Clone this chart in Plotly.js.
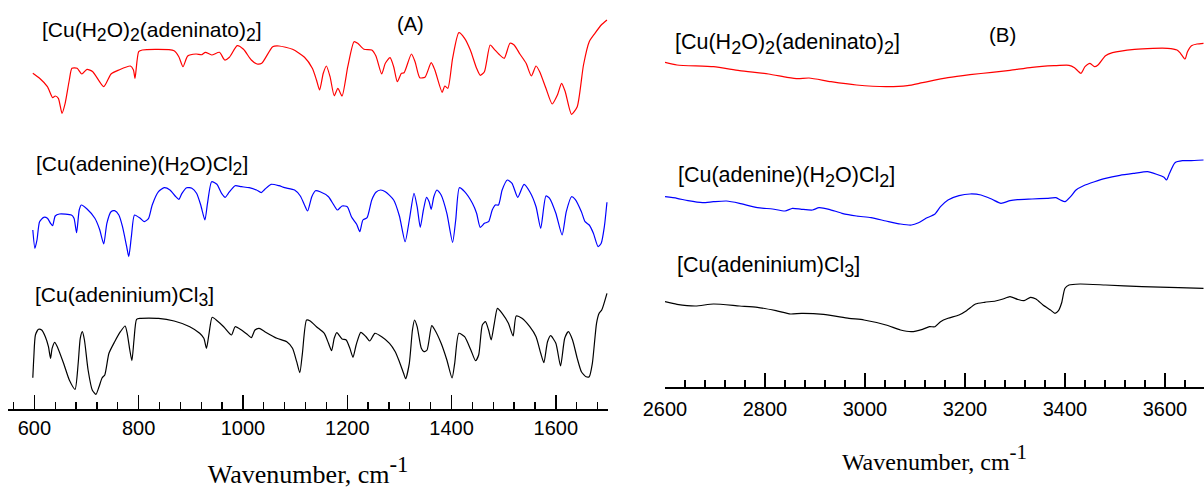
<!DOCTYPE html>
<html>
<head>
<meta charset="utf-8">
<script src="https://cdn.plot.ly/plotly-3.0.1.min.js"></script>
<style>html,body{margin:0;padding:0;background:#fff;}#chart{width:1204px;height:489px;}</style>
</head>
<body>
<div id="chart"></div>
<script>
// ---------- Panel (A): 600-1700 cm-1 (transmittance, arbitrary units, offset for clarity) ----------
const aRedWavenumber = [597,610,625,635,640,646,653,659,667,672,682,691,701,712,733,747,762,784,790,793,800,807,868,877,885,894,910,921,928,940,955,965,974,989,1001,1016,1027,1036,1057,1069,1095,1118,1133,1141,1147,1154,1160,1167,1175,1182,1190,1201,1213,1220,1232,1247,1255,1266,1273,1282,1289,1296,1304,1309,1323,1330,1339,1349,1361,1368,1382,1387,1393,1402,1414,1425,1436,1448,1455,1463,1474,1482,1491,1501,1512,1520,1531,1543,1553,1562,1569,1581,1593,1603,1611,1618,1630,1641,1653,1664,1675,1687,1698];
const aRedT = [335.7,330.7,322.3,311.3,313.0,310.7,295.7,305.7,329.0,340.7,340.7,335.0,339.7,337.3,322.3,335.0,339.0,343.0,339.0,330.7,357.3,359.0,358.3,352.3,342.3,353.0,355.0,354.3,356.7,354.0,356.7,349.0,351.7,363.3,359.7,349.0,345.0,345.7,362.3,363.0,359.7,351.7,340.7,329.0,319.0,335.7,343.0,332.3,313.3,320.7,313.0,342.3,367.3,365.7,359.7,359.0,353.0,335.0,345.7,351.3,342.3,327.3,335.7,336.3,355.0,347.3,331.3,331.7,346.3,339.0,316.7,323.0,320.7,350.7,376.3,370.7,359.0,340.7,333.7,337.3,364.0,359.7,354.7,350.7,365.7,364.0,355.0,345.7,333.0,343.0,337.3,320.7,305.0,314.0,325.7,317.3,294.7,302.3,344.0,367.3,375.7,384.0,389.0];

const aBlueWavenumber = [597,601,605,610,618,625,631,635,640,648,671,676,681,686,690,701,716,725,733,739,747,754,762,769,777,781,786,792,803,811,819,826,838,849,860,870,877,883,892,902,911,919,927,932,940,950,959,966,972,985,997,1012,1026,1035,1042,1054,1069,1080,1099,1110,1118,1124,1132,1139,1148,1164,1173,1181,1190,1200,1208,1213,1218,1224,1230,1238,1247,1255,1264,1273,1289,1300,1311,1319,1328,1334,1340,1346,1352,1357,1361,1366,1372,1380,1391,1402,1408,1415,1425,1440,1448,1455,1463,1471,1478,1484,1490,1497,1507,1516,1527,1539,1550,1562,1571,1581,1588,1600,1612,1620,1630,1637,1649,1656,1664,1672,1681,1687,1693,1698];
const aBlueT = [179.0,160.7,169.0,187.3,191.7,190.7,185.7,183.3,193.0,195.0,194.0,190.7,176.3,199.0,204.0,200.0,190.7,179.7,165.0,185.7,197.3,198.3,194.0,182.3,162.3,152.3,172.3,194.0,190.7,187.3,190.7,204.0,217.3,221.3,219.0,213.0,209.7,215.7,221.3,220.7,215.7,204.0,189.0,205.7,227.3,224.7,215.7,211.7,215.7,223.3,222.3,221.3,219.0,216.3,219.7,224.7,223.3,221.3,219.0,213.0,204.0,198.0,212.3,218.3,217.3,212.3,205.0,199.0,203.0,202.3,192.3,188.3,184.7,177.3,189.0,191.3,209.0,216.7,219.0,217.3,209.0,193.0,167.3,189.0,215.7,202.3,181.7,199.0,211.7,207.3,199.7,212.3,219.0,214.0,195.7,166.7,189.0,221.3,217.3,205.7,195.7,181.7,185.7,187.3,199.0,204.0,204.0,219.0,229.0,225.7,211.7,224.7,217.3,202.3,180.7,213.0,210.7,195.7,174.0,197.3,212.3,209.7,197.3,187.3,184.0,175.7,162.3,165.7,182.3,206.7];

const aBlackWavenumber = [597,599,602,608,614,621,627,631,634,639,644,656,667,678,684,688,692,696,703,711,718,724,730,735,743,754,765,774,778,783,787,791,796,803,838,868,898,917,925,930,935,941,951,963,978,985,997,1008,1016,1023,1031,1042,1065,1084,1095,1103,1109,1114,1122,1129,1141,1156,1164,1170,1175,1180,1190,1198,1205,1211,1217,1226,1236,1243,1253,1266,1281,1292,1300,1308,1312,1319,1325,1329,1334,1342,1347,1353,1362,1368,1380,1391,1401,1406,1414,1425,1437,1446,1452,1459,1465,1471,1476,1482,1488,1497,1509,1518,1524,1535,1550,1562,1571,1577,1584,1590,1600,1609,1617,1624,1632,1641,1649,1658,1664,1670,1678,1683,1688,1698];
const aBlackT = [31.3,52.3,74.0,79.7,79.0,72.3,62.3,50.7,60.7,66.7,62.3,45.7,29.0,19.7,45.7,70.7,77.3,69.0,39.0,19.0,14.7,22.3,31.3,34.0,55.7,67.3,77.3,83.0,75.7,59.0,48.3,69.0,89.7,90.7,90.7,88.0,82.3,75.7,70.7,60.7,75.7,91.7,88.0,82.3,74.0,82.3,79.0,74.7,71.3,79.0,80.7,77.3,70.7,67.3,60.7,47.3,36.3,55.7,89.0,88.0,82.3,75.7,65.7,58.3,70.7,76.3,70.0,69.0,60.7,51.7,64.0,76.7,72.3,68.0,75.7,72.3,65.7,57.3,47.3,35.7,30.3,45.7,79.0,89.0,82.3,60.7,57.3,59.0,83.3,79.0,65.7,49.0,31.0,45.7,75.7,72.3,59.0,48.3,54.0,84.0,87.3,79.0,69.0,85.7,100.7,95.7,85.7,73.0,93.0,90.7,82.3,72.3,55.7,46.3,67.3,73.3,65.7,43.0,70.7,77.3,69.0,50.7,37.3,32.3,32.3,45.7,85.7,95.7,99.0,115.7];

// ---------- Panel (B): 2600-3700 cm-1 ----------
const bRedWavenumber = [2600,2624,2697,2749,2807,2844,2866,2888,2932,2983,3042,3085,3115,3166,3210,3254,3290,3334,3378,3408,3419,3432,3440,3450,3459,3466,3481,3495,3539,3576,3605,3624,3631,3640,3645,3653,3664,3677];
const bRedT = [324.7,322.0,320.3,316.3,313.0,309.7,308.3,309.0,305.3,302.0,300.3,301.3,304.3,309.3,312.3,314.7,316.7,319.7,321.3,321.7,319.3,313.7,320.3,323.7,320.3,322.0,331.3,334.3,337.7,338.7,338.7,337.0,333.7,328.0,335.3,341.3,343.0,343.7];

const bBlueWavenumber = [2600,2624,2646,2675,2697,2723,2749,2785,2815,2840,2855,2873,2895,2908,2928,2954,2983,3012,3042,3071,3093,3107,3122,3140,3151,3166,3188,3210,3232,3254,3272,3290,3305,3334,3364,3382,3391,3400,3411,3422,3437,3459,3481,3510,3539,3565,3583,3598,3603,3609,3620,3635,3649,3677];
const bBlueT = [190.3,188.7,186.3,184.3,185.3,186.0,183.7,179.3,178.0,176.0,178.7,177.7,177.0,179.3,177.7,173.7,171.0,169.3,166.0,163.0,162.0,164.3,168.7,173.0,180.3,187.0,191.3,193.0,192.0,187.7,183.7,186.3,187.3,188.0,188.7,189.3,187.0,185.3,190.3,197.0,201.3,205.3,208.7,211.7,213.7,215.3,212.7,209.7,207.0,213.7,224.3,226.3,226.3,227.0];

const bBlackWavenumber = [2600,2624,2661,2697,2749,2785,2822,2851,2873,2917,2968,2998,3042,3071,3093,3115,3129,3140,3151,3166,3188,3203,3221,3239,3261,3276,3290,3305,3318,3331,3342,3356,3371,3380,3387,3393,3400,3408,3430,3481,3554,3627,3677];
const bBlackT = [85.3,82.7,81.0,83.0,81.0,79.7,76.3,73.0,73.7,72.7,68.7,67.0,62.0,57.0,55.3,57.7,60.3,60.3,65.3,68.7,72.0,76.3,83.0,84.7,86.0,88.0,90.3,87.7,86.3,89.7,88.0,82.0,77.0,73.7,76.3,83.7,98.7,102.0,103.0,102.0,100.3,99.3,98.7];

const S = n => "<sub><span style=\"font-size:120%\">" + n + "</span></sub>";
const compoundLabels = [
  "[Cu(H" + S(2) + "O)" + S(2) + "(adeninato)" + S(2) + "]",
  "[Cu(adenine)(H" + S(2) + "O)Cl" + S(2) + "]",
  "[Cu(adeninium)Cl" + S(3) + "]"
];
const panelLabels = ["(A)", "(B)"];
const axisTitle = "Wavenumber, cm<sup><span style=\"font-size:125%\">-1</span></sup>";

const W = 1204, H = 489;
const px = x => x / W;
const py = y => 1 - y / H;

function line(x, y, color, xa, ya, name) {
  return {x: x, y: y, type: 'scatter', mode: 'lines', name: name, xaxis: xa, yaxis: ya,
    line: {color: color, width: 1.2, shape: 'spline', smoothing: 0.6}, hoverinfo: 'x+name'};
}

const traces = [
  line(aRedWavenumber, aRedT, '#ff0000', 'x', 'y', compoundLabels[0]),
  line(aBlueWavenumber, aBlueT, '#0000ff', 'x', 'y', compoundLabels[1]),
  line(aBlackWavenumber, aBlackT, '#000000', 'x', 'y', compoundLabels[2]),
  line(bRedWavenumber, bRedT, '#ff0000', 'x2', 'y2', compoundLabels[0]),
  line(bBlueWavenumber, bBlueT, '#0000ff', 'x2', 'y2', compoundLabels[1]),
  line(bBlackWavenumber, bBlackT, '#000000', 'x2', 'y2', compoundLabels[2])
];

const tickFont = {family: 'Arial, "Liberation Sans", sans-serif', size: 20, color: '#000'};
const titleFont = s => ({family: '"Times New Roman", "Liberation Serif", serif', size: s, color: '#000'});

function xAxis(domain, range, tick0, anchor, titleSize, standoff, labelStandoff) {
  return {
    domain: domain, range: range, anchor: anchor,
    showline: true, linecolor: '#000', linewidth: 1.5,
    ticks: 'inside', ticklen: 14, tickwidth: 1.5, tickcolor: '#000',
    tick0: tick0, dtick: 200, tickfont: tickFont, ticklabelstandoff: labelStandoff,
    minor: {ticks: 'inside', tick0: tick0, dtick: 40, ticklen: 7, tickwidth: 1.3, tickcolor: '#000', showgrid: false},
    showgrid: false, zeroline: false, fixedrange: true,
    title: {text: axisTitle, font: titleFont(titleSize), standoff: standoff}
  };
}

const layout = {
  width: W, height: H,
  margin: {l: 0, r: 0, t: 0, b: 0},
  paper_bgcolor: '#fff', plot_bgcolor: 'rgba(0,0,0,0)',
  showlegend: false,
  xaxis: xAxis([px(8.3), px(608)], [550, 1700], 600, 'y', 26, 39, 0),
  yaxis: {domain: [py(409), 1], range: [0, 409], visible: false, fixedrange: true},
  xaxis2: xAxis([px(665), 1], [2600, 3678], 2600, 'y2', 24, 34, 3),
  yaxis2: {domain: [py(387), 1], range: [0, 387], visible: false, fixedrange: true},
  annotations: []
};

const labFont = s => ({family: 'Arial, "Liberation Sans", sans-serif', size: s, color: '#000'});
function ann(text, x, y, size, anchor) {
  layout.annotations.push({text: text, xref: 'paper', yref: 'paper', x: px(x), y: py(y),
    xanchor: anchor || 'left', yanchor: 'middle', showarrow: false, font: labFont(size)});
}
ann(compoundLabels[0], 40, 31, 21);
ann(compoundLabels[1], 34, 165, 21);
ann(compoundLabels[2], 33, 296, 21);
ann(panelLabels[0], 410, 23.5, 20, 'center');
ann(compoundLabels[0], 673, 44, 21.5);
ann(compoundLabels[1], 676, 177, 21.5);
ann(compoundLabels[2], 675, 267, 21.5);
ann(panelLabels[1], 1002.5, 34.5, 20.5, 'center');

Plotly.newPlot('chart', traces, layout, {displayModeBar: false, staticPlot: true});
</script>
</body>
</html>
